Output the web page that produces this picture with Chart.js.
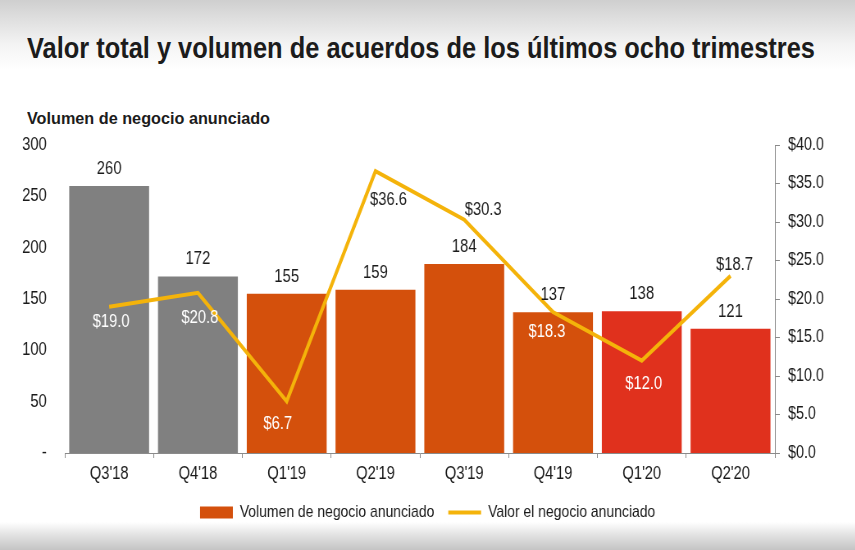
<!DOCTYPE html>
<html>
<head>
<meta charset="utf-8">
<script src="https://cdn.jsdelivr.net/npm/chart.js@4.4.1/dist/chart.umd.min.js"></script>
<style>
  html, body { margin: 0; padding: 0; }
  body {
    width: 855px; height: 550px; position: relative; overflow: hidden;
    background: linear-gradient(to bottom, #cfcfcf 0px, #f4f4f4 45px, #ffffff 70px, #ffffff 522px, #e2e2e2 535px, #c4c4c4 550px);
  }
  #title, #subtitle {
    position: absolute; left: 27px; white-space: nowrap; line-height: 1;
    font-family: "Liberation Sans", Arial, sans-serif; font-weight: bold;
    color: #1c1c1c; transform-origin: 0 0;
  }
  #title { top: 34px; font-size: 29px; }
  #subtitle { top: 110px; font-size: 17px; }
  /* el grafico se dibuja mas ancho y se comprime, como el texto estrecho del original */
  #wrap { position: absolute; left: 0; top: 0; height: 550px; transform-origin: 0 0; }
</style>
</head>
<body>
<div id="title">Valor total y volumen de acuerdos de los últimos ocho trimestres</div>
<div id="subtitle">Volumen de negocio anunciado</div>
<div id="wrap"><canvas id="chart"></canvas></div>
<script>
// datos del gráfico
const trimestres = ["Q3'18", "Q4'18", "Q1'19", "Q2'19", "Q3'19", "Q4'19", "Q1'20", "Q2'20"];
const volumen = [260, 172, 155, 159, 184, 137, 138, 121];
const valor = [19.0, 20.8, 6.7, 36.6, 30.3, 18.3, 12.0, 23.0];
const valorEtiquetas = ['$19.0', '$20.8', '$6.7', '$36.6', '$30.3', '$18.3', '$12.0', '$18.7'];
const ticksIzq = [0, 50, 100, 150, 200, 250, 300];
const ticksDer = [0, 5, 10, 15, 20, 25, 30, 35, 40];

const GRIS = '#808080';
const NARANJA = '#d4500c';
const ROJO = '#e0311d';
const AMARILLO = '#f4b30a';
const coloresBarras = [GRIS, GRIS, NARANJA, NARANJA, NARANJA, NARANJA, ROJO, ROJO];

// posicion de las etiquetas del valor respecto al punto (dx, dy en px de pantalla, color)
const etiquetaPos = [
  [2, 15, '#fff'], [2, 25, '#fff'], [-9, 23, '#fff'], [13, 29, '#222'],
  [19, -10, '#222'], [-6, 20, '#fff'], [2, 23, '#fff'], [4, -11, '#222']
];

const SX = 0.82;                       // compresion horizontal
const ANCHO = Math.round(855 / SX);
const wrap = document.getElementById('wrap');
wrap.style.width = ANCHO + 'px';
wrap.style.transform = 'scaleX(' + SX + ')';

const FUENTE = '"Liberation Sans", Arial, sans-serif';

// ajustar titulos al ancho del original
function ajustar(id, ancho) {
  const el = document.getElementById(id);
  const w = el.getBoundingClientRect().width;
  el.style.transform = 'scaleX(' + (ancho / w) + ')';
}
ajustar('title', 788);
ajustar('subtitle', 243);

const etiquetasPlugin = {
  id: 'etiquetas',
  afterDatasetsDraw(chart) {
    const ctx = chart.ctx;
    ctx.save();
    ctx.font = '18px ' + FUENTE;
    ctx.textAlign = 'center';
    ctx.textBaseline = 'middle';
    chart.getDatasetMeta(0).data.forEach((bar, i) => {
      ctx.fillStyle = '#1a1a1a';
      ctx.fillText(String(volumen[i]), bar.x, bar.y - 17);
    });
    chart.getDatasetMeta(1).data.forEach((pt, i) => {
      const p = etiquetaPos[i];
      ctx.fillStyle = p[2];
      ctx.fillText(valorEtiquetas[i], pt.x + p[0] / SX, pt.y + p[1]);
    });
    ctx.restore();
  }
};

Chart.defaults.font.family = FUENTE;
Chart.defaults.color = '#1a1a1a';

new Chart(document.getElementById('chart'), {
  data: {
    labels: trimestres,
    datasets: [
      {
        type: 'bar',
        label: 'Volumen de negocio anunciado',
        data: volumen,
        backgroundColor: coloresBarras,
        yAxisID: 'y',
        barPercentage: 0.9,
        categoryPercentage: 1.0,
        order: 2
      },
      {
        type: 'line',
        label: 'Valor el negocio anunciado',
        data: valor,
        borderColor: AMARILLO,
        backgroundColor: AMARILLO,
        borderWidth: 4,
        pointRadius: 0,
        tension: 0,
        yAxisID: 'y1',
        order: 1
      }
    ]
  },
  options: {
    responsive: true,
    maintainAspectRatio: false,
    animation: false,
    layout: { padding: { top: 145, left: 0, right: 0, bottom: 19 } },
    plugins: {
      legend: {
        position: 'bottom',
        labels: {
          font: { size: 17 },
          color: '#1a1a1a',
          usePointStyle: true,
          pointStyleWidth: 40,
          boxHeight: 12,
          padding: 17,
          generateLabels: (chart) => {
            const items = Chart.defaults.plugins.legend.labels.generateLabels(chart);
            items.sort((a, b) => a.datasetIndex - b.datasetIndex);
            items[0].pointStyle = 'rect';
            items[0].fillStyle = NARANJA;
            items[0].lineWidth = 0;
            items[1].pointStyle = 'line';
            items[1].strokeStyle = AMARILLO;
            items[1].lineWidth = 4;
            return items;
          }
        }
      },
      tooltip: { enabled: false }
    },
    scales: {
      x: {
        grid: { display: true, drawOnChartArea: false, drawTicks: true, tickLength: 5, color: '#8a8a8a', offset: true },
        border: { display: true, color: '#8a8a8a', width: 1 },
        ticks: { font: { size: 18 }, padding: 5, color: '#1a1a1a' },
        afterFit: (s) => { s.height = 34; }
      },
      y: {
        position: 'left',
        min: 0, max: 300,
        afterBuildTicks: (s) => { s.ticks = ticksIzq.map(v => ({ value: v })); },
        grid: { display: false, drawTicks: false },
        border: { display: false },
        ticks: { font: { size: 18 }, padding: 22, color: '#1a1a1a', callback: (v) => v === 0 ? '-' : v },
        afterFit: (s) => { s.width = 79; }
      },
      y1: {
        position: 'right',
        min: 0, max: 40,
        afterBuildTicks: (s) => { s.ticks = ticksDer.map(v => ({ value: v })); },
        grid: { display: true, drawOnChartArea: false, drawTicks: true, tickLength: 6, color: '#8a8a8a' },
        border: { display: true, color: '#8a8a8a', width: 1 },
        ticks: { font: { size: 17.5 }, padding: 10, color: '#1a1a1a', callback: (v) => '$' + v.toFixed(1) },
        afterFit: (s) => { s.width = 98; }
      }
    }
  },
  plugins: [etiquetasPlugin]
});
</script>
</body>
</html>
